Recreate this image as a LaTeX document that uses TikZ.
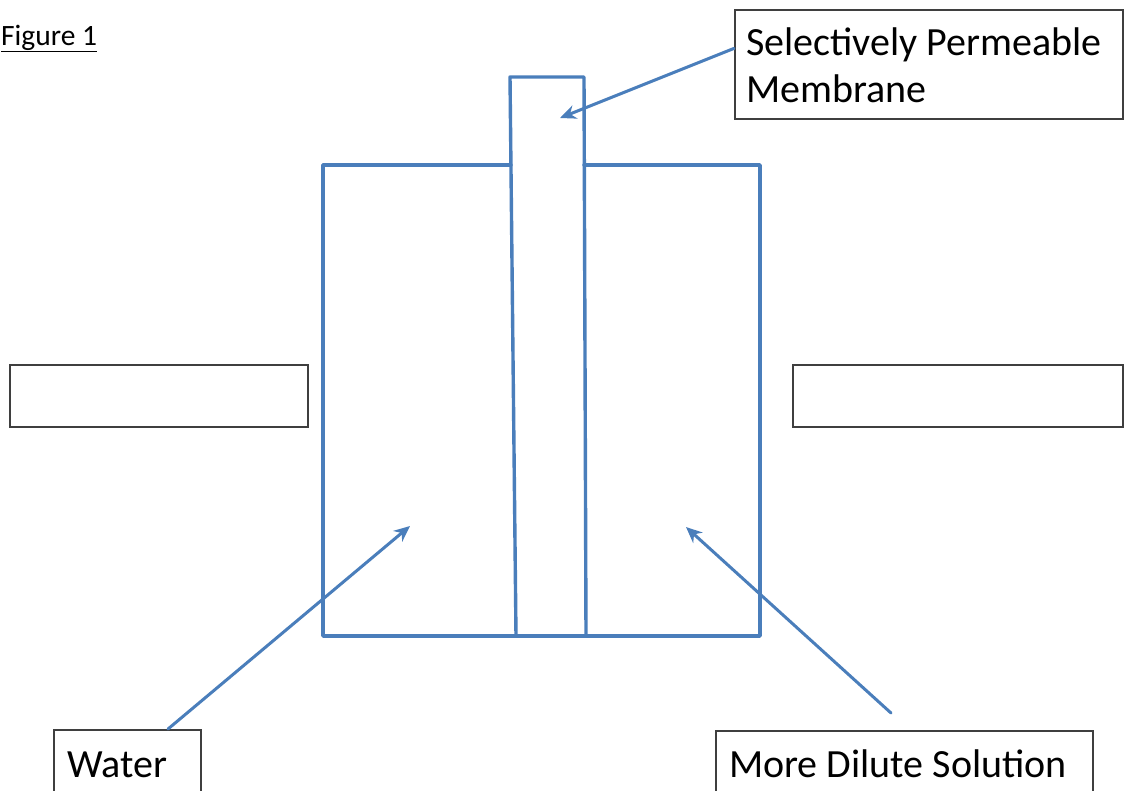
\documentclass[tikz,border=0pt]{standalone}
\usepackage{fontspec}
\setmainfont{Carlito}
\usetikzlibrary{arrows.meta}
\definecolor{tankblue}{HTML}{4A7EBB}
\definecolor{boxline}{HTML}{3F3F3F}
\begin{document}
\begin{tikzpicture}[x=1pt,y=-1pt,
  tank/.style={draw=tankblue,line width=3.4pt,line join=round,line cap=round},
  pointer/.style={draw=tankblue,line width=3pt,line cap=round,-{Stealth[length=16pt,width=14pt]}},
  labelbox/.style={draw=boxline,line width=1.8pt,inner sep=0pt,anchor=north west,fill=white},
  labeltext/.style={font=\fontsize{40}{47}\selectfont,anchor=base west,inner sep=0pt,align=left}]
\useasboundingbox (0,0) rectangle (1127,790);
\clip (0,0) rectangle (1127,790);

% title
\node[font=\fontsize{29.5}{35}\selectfont,anchor=base west,inner sep=0pt] (figtitle) at (1,45) {\underline{Figure 1}};

% container and membrane
\draw[tank] (511,165) -- (323,165) -- (323,636) -- (760,636) -- (760,165) -- (584,165);
\draw[tank] (516,636) -- (510,77) -- (584,77) -- (586,636);

% label boxes
\node[labelbox,minimum width=388pt,minimum height=109pt] (membox) at (734,9) {};
\node[labeltext] (memtext) at (746,102) {Selectively Permeable\\Membrane};

\node[labelbox,minimum width=298pt,minimum height=62pt] (leftbox) at (9,364) {};
\node[labelbox,minimum width=330pt,minimum height=62pt] (rightbox) at (792,364) {};

\node[labelbox,minimum width=147pt,minimum height=90pt] (waterbox) at (53,729) {};
\node[labeltext] (watertext) at (67,777) {Water};

\node[labelbox,minimum width=377pt,minimum height=90pt] (dilbox) at (715,730) {};
\node[labeltext] (diltext) at (729,777) {More Dilute Solution};

% pointers
\coordinate (memtip) at (560,118);
\coordinate (watertip) at (410,526);
\coordinate (diltip) at (686,527);
\coordinate (dilstart) at (891,713);

\draw[pointer] ([yshift=16pt]membox.west) -- (memtip);
\draw[pointer] ([xshift=115pt]waterbox.north west) -- (watertip);
\draw[pointer] (dilstart) -- (diltip);
\end{tikzpicture}
\end{document}
